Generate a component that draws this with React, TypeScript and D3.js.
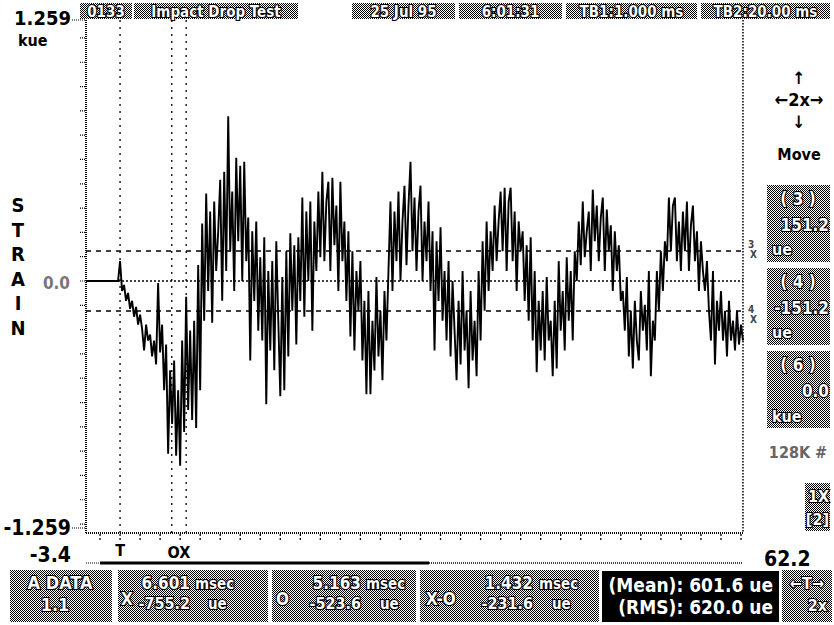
import React from "react";
import * as d3 from "d3";

// ---- data (kue), sampled every 0.2 ms from -3.4 ms ----
const strainKue: number[] = [
  0, 0, 0, 0, 0, 0, 0, 0, 0, 0,
  0, 0, 0, 0, 0, 0, 0,
  0.10, -0.05, -0.02, -0.10, -0.06, -0.14, -0.10, -0.18, -0.13, -0.22, -0.17,
  -0.24, -0.35, -0.22, -0.30, -0.27,
  -0.38, -0.30, -0.42, -0.01, -0.36,
  -0.22, -0.55, -0.32, -0.87, -0.45,
  -0.72, -0.40, -0.88, -0.55, -0.93,
  -0.30, -0.76, -0.08, -0.65, -0.25,
  -0.70, -0.20, -0.74, 0.08, -0.55,
  0.29, -0.20, 0.44, -0.05, 0.35,
  -0.21, 0.40, 0.05, 0.25, 0.51,
  -0.10, 0.55, 0.05, 0.83, 0.15,
  0.45, -0.05, 0.62, 0.20, 0.58, 0.00, 0.60,
  0.10, 0.32, -0.40, 0.25, -0.10, 0.30, -0.25, 0.12,
  -0.30, 0.22, -0.62, 0.05, -0.35, 0.10, -0.45, 0.20, -0.20, -0.58, 0.02, -0.55, 0.15,
  -0.38, 0.24, -0.15, 0.18, -0.32, 0.22, -0.10,
  0.42, -0.18, 0.35, 0.00, 0.40, -0.25,
  0.30, 0.05, 0.45, 0.12, 0.55, 0.10, 0.40, 0.50, 0.05, 0.52, 0.18, 0.38, -0.05, 0.50, 0.10,
  0.30, -0.10, 0.25, -0.28, 0.15, -0.35, 0.05, -0.15, 0.10, -0.40, -0.10, -0.57,
  -0.05, -0.57, -0.20, -0.45, 0.02, -0.38, -0.15, -0.50, -0.05, -0.30, 0.05,
  0.40, -0.05, 0.35, 0.10, 0.45, 0.00, 0.30, 0.48, 0.08, 0.38, 0.60, 0.15, 0.42, 0.05, 0.35, 0.48, 0.00, 0.30, 0.10, 0.40, -0.05, 0.25,
  -0.35, 0.20, -0.10, 0.27, -0.20, 0.05, -0.30, 0.10, -0.38, 0.00, -0.25, -0.50,
  -0.10, -0.42, 0.05, -0.35, -0.15, -0.54, -0.05, -0.40, -0.20, -0.48, 0.05, -0.30, 0.20, -0.15, 0.30, -0.05, 0.25,
  0.05, 0.38, 0.10, 0.30, 0.45, 0.15, 0.47, 0.05, 0.40, 0.47, 0.10, 0.35, -0.05, 0.30, 0.15, 0.25, -0.10, 0.18, -0.20, 0.22,
  -0.30, 0.05, -0.46, -0.10, -0.35, -0.05, -0.40, 0.02, -0.30, -0.20, -0.48, -0.10, -0.44, 0.10, -0.25, -0.05, -0.35, 0.12, -0.20, 0.05, -0.30,
  0.15, 0.00, 0.30, 0.08, 0.40, 0.12, 0.25, 0.35, 0.05, 0.46, 0.20, 0.38, 0.10, 0.32, 0.42, 0.05, 0.36, 0.15, 0.28, -0.05, 0.25, 0.05, 0.18, -0.10,
  -0.05, -0.25, 0.02, -0.38, -0.15, -0.44, -0.10, -0.30, -0.40, -0.05, -0.25, -0.12, -0.35, 0.05, -0.48, -0.20, -0.30, 0.05, -0.15, 0.15,
  -0.05, 0.20, 0.10, 0.42, 0.15, 0.38, 0.42, 0.10, 0.30, 0.05, 0.35, 0.15, 0.40, 0.05, 0.28, 0.38, 0.10, 0.25, -0.05, 0.20, 0.05,
  -0.05, 0.10, -0.15, -0.30, 0.05, -0.42, -0.10, -0.25, -0.05, -0.30, -0.15, -0.38, -0.10, -0.30, -0.20, -0.35, -0.15, -0.32, -0.22, -0.30,
];
const sampleStartMs = -3.4;
const sampleStepMs = 0.2;

const xDomainMs = [-3.4, 62.2];
const yDomainKue = [-1.259, 1.259];
const xTickMs = d3.range(-2, 63, 2);
const yTickKue = d3.range(-10, 11).map((k) => k * 0.1224);
const limitKue = [0.1512, -0.1512];
const cursorMs = [0, 5.163, 6.601];

const headerLabels = ["0133", "Impact Drop Test", "25 Jul 95", "6:01:31", "TB1:1.000 ms", "TB2:20.00 ms"];
const headerBoxes = [[80, 132], [134, 298], [352, 455], [459, 562], [566, 697], [701, 830]];

const FONT = "'DejaVu Sans Condensed', 'DejaVu Sans', sans-serif";

export default function App() {
  const x = d3.scaleLinear().domain(xDomainMs).range([86, 743]);
  const y = d3.scaleLinear().domain(yDomainKue).range([531, 31]);
  const pts = strainKue.map((v, i) => [sampleStartMs + i * sampleStepMs, v] as [number, number]);
  const line = d3.line<[number, number]>().x((d) => x(d[0])).y((d) => y(d[1]));

  const txt = (s: string, px: number, py: number, size: number, opts: any = {}) => (
    <text
      x={px}
      y={py}
      fontFamily={FONT}
      fontWeight="bold"
      fontSize={size}
      fill={opts.fill || "#000"}
      stroke={opts.outline ? "#000" : "none"}
      strokeWidth={opts.outline ? 2.2 : 0}
      paintOrder="stroke"
      textAnchor={opts.anchor || "start"}
      style={{ fontStretch: "condensed" }}
    >
      {s}
    </text>
  );
  const w = (s: string, px: number, py: number, size: number, anchor = "start") =>
    txt(s, px, py, size, { fill: "#fff", outline: true, anchor });

  return (
    <svg width={834} height={625} style={{ position: "absolute", left: 0, top: 0, background: "#fff" }}>
      <defs>
        <pattern id="dither" width={2} height={2} patternUnits="userSpaceOnUse">
          <rect width={2} height={2} fill="#fff" shapeRendering="crispEdges" />
          <rect x={0} y={0} width={1} height={1} fill="#000" shapeRendering="crispEdges" />
          <rect x={1} y={1} width={1} height={1} fill="#000" shapeRendering="crispEdges" />
        </pattern>
      </defs>
      <rect width={834} height={625} fill="#fff" />

      {/* header panels */}
      {headerLabels.map((s, i) => (
        <g key={s}>
          <rect x={headerBoxes[i][0]} y={3} width={headerBoxes[i][1] - headerBoxes[i][0]} height={16} fill="url(#dither)" shapeRendering="crispEdges" />
          {w(s, (headerBoxes[i][0] + headerBoxes[i][1]) / 2, 17, 15, "middle")}
        </g>
      ))}

      {/* left labels */}
      {txt("1.259", 71, 25, 20, { anchor: "end" })}
      {txt("kue", 18, 46, 16)}
      {"STRAIN".split("").map((c, i) => (
        <g key={i}>{txt(c, 18, 212 + i * 24.5, 20, { anchor: "middle" })}</g>
      ))}
      {txt("0.0", 70, 289, 17, { anchor: "end", fill: "#777" })}
      {txt("-1.259", 71, 535, 21, { anchor: "end" })}
      {txt("-3.4", 71, 562, 21, { anchor: "end" })}
      {txt("62.2", 764, 566, 21)}

      {/* frame */}
      <line x1={86} x2={86} y1={20} y2={533} stroke="#000" strokeWidth={2} strokeDasharray="1,1" />
      <line x1={743} x2={743} y1={20} y2={533} stroke="#000" strokeWidth={1.5} strokeDasharray="1.5,1.5" />
      <line x1={86} x2={743} y1={533} y2={533} stroke="#000" strokeWidth={2} strokeDasharray="1,1" />
      {yTickKue.map((v, i) => (
        <line key={i} x1={80} x2={86} y1={y(v)} y2={y(v)} stroke="#000" strokeWidth={1.2} strokeDasharray="1,1" />
      ))}
      <line x1={72} x2={86} y1={20} y2={20} stroke="#000" strokeWidth={1.2} strokeDasharray="1,1" />
      <line x1={72} x2={86} y1={528} y2={528} stroke="#000" strokeWidth={1.2} strokeDasharray="1,1" />
      {xTickMs.map((t) => (
        <line key={t} x1={x(t)} x2={x(t)} y1={534} y2={542} stroke="#000" strokeWidth={1.3} strokeDasharray="2,2" />
      ))}

      {/* cursors */}
      {cursorMs.map((t) => (
        <line key={t} x1={x(t)} x2={x(t)} y1={20} y2={533} stroke="#000" strokeWidth={1.3} strokeDasharray="2,5" />
      ))}

      {/* zero and limit lines */}
      <line x1={86} x2={743} y1={y(0)} y2={y(0)} stroke="#000" strokeWidth={1.5} strokeDasharray="2,2" />
      {limitKue.map((v) => (
        <line key={v} x1={86} x2={743} y1={y(v)} y2={y(v)} stroke="#000" strokeWidth={1.3} strokeDasharray="5,5" />
      ))}
      {txt("3", 748, 248, 10, { fill: "#444" })}
      {txt("X", 750, 258, 10, { fill: "#444" })}
      {txt("4", 748, 313, 10, { fill: "#444" })}
      {txt("X", 750, 323, 10, { fill: "#444" })}

      {/* trace */}
      <path d={line(pts) || ""} fill="none" stroke="#000" strokeWidth={1.9} strokeLinejoin="miter" />

      {/* cursor labels */}
      {txt("T", x(0), 556, 16, { anchor: "middle" })}
      {txt("OX", 179, 558, 16, { anchor: "middle" })}

      {/* scroll bar */}
      <line x1={86} x2={100} y1={563} y2={563} stroke="#000" strokeWidth={1} strokeDasharray="1,1" />
      <line x1={100} x2={429} y1={563} y2={563} stroke="#000" strokeWidth={3} />
      <line x1={429} x2={743} y1={563} y2={563} stroke="#000" strokeWidth={1.5} strokeDasharray="1,1" />

      {/* right side controls */}
      {txt("↑", 799, 84, 17, { anchor: "middle" })}
      {txt("←2x→", 799, 106, 18, { anchor: "middle" })}
      {txt("↓", 799, 128, 17, { anchor: "middle" })}
      {txt("Move", 799, 160, 16, { anchor: "middle" })}

      <rect x={767} y={185} width={63} height={77} fill="url(#dither)" shapeRendering="crispEdges" />
      {w("( 3 )", 798, 205, 17, "middle")}
      {w("151.2", 829, 231, 17, "end")}
      {w("ue", 772, 255, 16)}

      <rect x={767} y={268} width={63} height={77} fill="url(#dither)" shapeRendering="crispEdges" />
      {w("( 4 )", 798, 288, 17, "middle")}
      {w("-151.2", 829, 314, 17, "end")}
      {w("ue", 772, 338, 16)}

      <rect x={767} y={351} width={63} height={77} fill="url(#dither)" shapeRendering="crispEdges" />
      {w("( 6 )", 798, 371, 17, "middle")}
      {w("0.0", 829, 397, 17, "end")}
      {w("kue", 772, 422, 16)}

      {txt("128K #", 798, 458, 16, { anchor: "middle", fill: "#666" })}

      <rect x={805} y={483} width={25} height={48} fill="url(#dither)" shapeRendering="crispEdges" />
      {w("1X", 829, 502, 16, "end")}
      {w("[2]", 829, 525, 16, "end")}

      {/* bottom panels */}
      <rect x={10} y={570} width={102} height={52} fill="url(#dither)" shapeRendering="crispEdges" />
      {w("A   DATA", 60, 589, 18, "middle")}
      {w("1.1", 55, 611, 18, "middle")}

      <rect x={118} y={570} width={150} height={52} fill="url(#dither)" shapeRendering="crispEdges" />
      {w("X", 121, 605, 17)}
      {w("6.601", 190, 589, 17, "end")}
      {w("msec", 195, 589, 15)}
      {w("-755.2", 190, 609, 16, "end")}
      {w("ue", 208, 609, 15)}

      <rect x={272} y={570} width={144} height={52} fill="url(#dither)" shapeRendering="crispEdges" />
      {w("O", 276, 605, 17)}
      {w("5.163", 361, 589, 17, "end")}
      {w("msec", 366, 589, 15)}
      {w("-523.6", 361, 609, 16, "end")}
      {w("ue", 380, 609, 15)}

      <rect x={420} y={570} width={179} height={52} fill="url(#dither)" shapeRendering="crispEdges" />
      {w("X-O", 426, 605, 17)}
      {w("1.432", 533, 589, 17, "end")}
      {w("msec", 539, 589, 15)}
      {w("-231.6", 533, 609, 16, "end")}
      {w("ue", 552, 609, 15)}

      <rect x={602} y={571} width={177} height={51} fill="#000" />
      {txt("(Mean): 601.6 ue", 773, 592, 19, { fill: "#fff", anchor: "end" })}
      {txt("(RMS): 620.0 ue", 773, 614, 19, { fill: "#fff", anchor: "end" })}

      <rect x={782} y={570} width={50} height={52} fill="url(#dither)" shapeRendering="crispEdges" />
      {w("←T→", 807, 589, 16, "middle")}
      {w("2x", 827, 611, 16, "end")}
    </svg>
  );
}
